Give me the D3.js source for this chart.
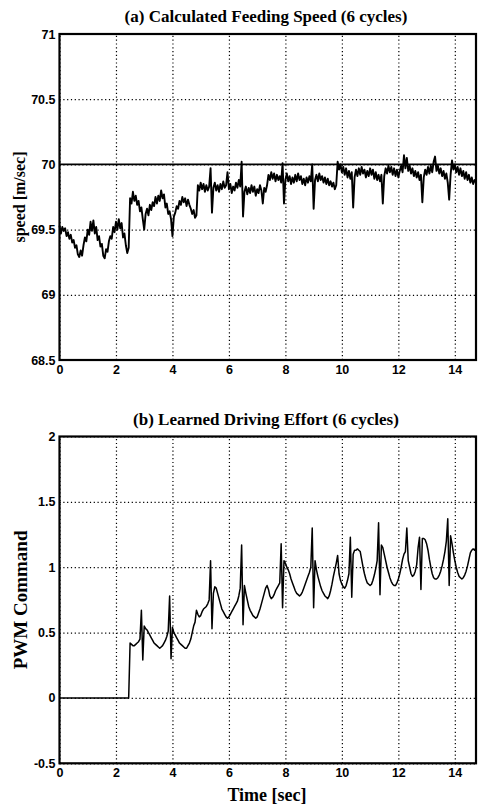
<!DOCTYPE html>
<html><head><meta charset="utf-8">
<script src="https://cdn.jsdelivr.net/npm/d3@7/dist/d3.min.js"></script>
<style>body{margin:0;background:#fff}</style>
</head><body>
<svg id="c" width="480" height="804"></svg>
<script>
// sampling interval of the recorded signals [sec]
const dt = 0.05;

// (a) calculated feeding speed [m/sec], one value every 0.05 s from t = 0
const speedValues = [
69.53,69.47,69.52,69.49,69.51,69.45,69.48,69.43,69.46,69.40,
69.42,69.36,69.38,69.31,69.29,69.34,69.30,69.38,69.44,69.41,
69.50,69.46,69.56,69.49,69.57,69.47,69.52,69.42,69.45,69.37,
69.39,69.30,69.28,69.35,69.33,69.41,69.45,69.43,69.52,69.48,
69.56,69.50,69.58,69.51,69.55,69.44,69.47,69.38,69.32,69.36,
69.74,69.70,69.79,69.72,69.76,69.69,69.72,69.64,69.67,69.58,
69.50,69.62,69.66,69.61,69.69,69.65,69.71,69.68,69.75,69.70,
69.76,69.72,69.80,69.74,69.77,69.67,69.70,69.62,69.64,69.58,
69.45,69.60,69.63,69.68,69.66,69.72,69.69,69.75,69.71,69.74,
69.68,69.73,69.69,69.66,69.62,69.65,69.59,69.61,69.84,69.80,
69.86,69.81,69.85,69.79,69.84,69.80,69.83,69.97,69.63,69.82,
69.86,69.80,69.84,69.79,69.85,69.81,69.87,69.82,69.84,69.94,
69.81,69.85,69.78,69.83,69.80,69.86,69.82,69.88,69.83,70.02,
69.60,69.79,69.83,69.77,69.82,69.78,69.84,69.79,69.83,69.76,
69.81,69.78,69.84,69.80,69.70,69.82,69.79,69.84,69.92,69.88,
69.94,69.89,69.93,69.87,69.92,69.88,69.91,69.86,70.01,69.70,
69.88,69.93,69.87,69.91,69.85,69.90,69.86,69.92,69.87,69.93,
69.88,69.91,69.85,69.89,69.84,69.90,69.86,69.91,69.87,70.00,
69.66,69.88,69.92,69.87,69.93,69.88,69.91,69.86,69.90,69.85,
69.89,69.84,69.87,69.83,69.86,69.81,69.84,70.02,69.96,70.00,
69.94,69.98,69.92,69.97,69.90,69.95,69.89,69.94,69.67,69.90,
69.96,69.91,69.97,69.92,69.98,69.93,69.96,69.90,69.95,69.91,
69.97,69.92,69.96,69.89,69.94,69.88,69.92,69.87,69.92,69.70,
69.91,69.97,69.93,69.99,69.94,69.98,69.92,69.97,69.91,69.96,
69.90,69.95,69.99,69.94,70.07,69.97,70.05,69.95,69.99,69.93,
69.97,69.91,69.95,69.90,69.94,69.88,69.92,69.71,69.90,69.96,
69.92,69.98,69.93,69.99,69.94,70.02,70.06,69.95,69.99,69.93,
69.97,69.91,69.95,69.89,69.93,69.86,69.73,69.92,70.03,69.96,
70.00,69.94,69.98,69.92,69.97,69.91,69.95,69.89,69.94,69.88,
69.92,69.86,69.90,69.85,69.88,69.86
];

// (b) learned driving effort (PWM command), one value every 0.05 s from t = 0
const pwmValues = [
0,0,0,0,0,0,0,0,0,0,
0,0,0,0,0,0,0,0,0,0,
0,0,0,0,0,0,0,0,0,0,
0,0,0,0,0,0,0,0,0,0,
0,0,0,0,0,0,0,0,0,0,
0.42,0.41,0.40,0.40,0.41,0.42,0.43,0.45,0.67,0.29,
0.55,0.53,0.52,0.50,0.48,0.46,0.44,0.42,0.41,0.40,
0.39,0.38,0.39,0.40,0.42,0.44,0.47,0.51,0.78,0.30,
0.54,0.50,0.48,0.46,0.44,0.42,0.41,0.40,0.39,0.38,
0.38,0.40,0.42,0.45,0.50,0.55,0.58,0.67,0.64,0.62,
0.63,0.66,0.68,0.69,0.70,0.72,0.75,1.05,0.53,0.80,
0.85,0.84,0.80,0.76,0.72,0.68,0.66,0.64,0.62,0.61,
0.62,0.64,0.66,0.68,0.70,0.72,0.74,0.78,0.84,1.17,
0.56,0.86,0.80,0.75,0.70,0.67,0.65,0.63,0.62,0.61,
0.62,0.65,0.68,0.72,0.76,0.80,0.84,0.86,0.83,0.78,
0.76,0.77,0.79,0.82,0.84,0.86,0.88,1.18,0.69,1.05,
1.03,1.00,0.98,0.95,0.91,0.88,0.85,0.82,0.80,0.79,
0.78,0.79,0.81,0.84,0.87,0.90,0.93,0.96,1.00,1.30,
0.69,1.05,0.98,0.93,0.89,0.85,0.82,0.80,0.78,0.77,
0.76,0.78,0.82,0.87,0.93,0.98,1.03,1.09,0.95,0.90,
0.87,0.85,0.84,0.86,0.90,0.95,1.23,0.77,1.10,1.13,
1.13,1.14,1.13,1.12,1.06,1.00,0.95,0.91,0.88,0.87,
0.86,0.87,0.90,0.94,0.99,1.05,1.34,0.79,1.17,1.15,
1.10,1.05,1.00,0.96,0.92,0.89,0.87,0.86,0.86,0.88,
0.91,0.95,1.00,1.06,1.10,1.12,1.30,1.05,1.00,0.95,
0.93,0.94,0.97,1.02,1.15,1.23,0.83,1.22,1.22,1.21,
1.18,1.13,1.06,1.00,0.95,0.92,0.91,0.91,0.92,0.94,
0.97,1.01,1.06,1.12,1.20,1.37,0.86,1.24,1.18,1.11,
1.05,1.00,0.96,0.93,0.92,0.91,0.92,0.94,0.97,1.01,
1.06,1.11,1.13,1.14,1.13,1.15
];

const timeDomain = [0, 14.75];
const xTicks = [0, 2, 4, 6, 8, 10, 12, 14];
const speedDomain = [68.5, 71];
const speedTicks = [68.5, 69, 69.5, 70, 70.5, 71];
const speedReference = [70];
const pwmDomain = [-0.5, 2];
const pwmTicks = [-0.5, 0, 0.5, 1, 1.5, 2];

const titleA = "(a) Calculated Feeding Speed (6 cycles)";
const titleB = "(b) Learned Driving Effort (6 cycles)";
const yLabelA = "speed [m/sec]";
const yLabelB = "PWM Command";
const xLabel = "Time [sec]";

const svg = d3.select("#c");
const serif = "'Liberation Serif','Times New Roman',serif";
const sans = "'Liberation Sans',Arial,sans-serif";

function panel(cfg) {
  const x = d3.scaleLinear().domain(timeDomain).range([cfg.left, cfg.right]);
  const y = d3.scaleLinear().domain(cfg.domain).range([cfg.bottom, cfg.top]);
  const g = svg.append("g");

  // dotted grid
  const gx = g.append("g").attr("transform", `translate(0,${cfg.bottom})`)
    .call(d3.axisBottom(x).tickValues(xTicks).tickSize(-(cfg.bottom - cfg.top)).tickFormat(""));
  const gy = g.append("g").attr("transform", `translate(${cfg.left},0)`)
    .call(d3.axisLeft(y).tickValues(cfg.ticks).tickSize(-(cfg.right - cfg.left)).tickFormat(""));
  [gx, gy].forEach(a => {
    a.select(".domain").remove();
    a.selectAll(".tick line").attr("stroke", "#000").attr("stroke-width", 1.2)
      .attr("stroke-dasharray", "1.2,2.6");
  });

  // tick labels
  const lx = g.append("g").attr("transform", `translate(0,${cfg.bottom})`)
    .call(d3.axisBottom(x).tickValues(xTicks).tickSize(0).tickPadding(5).tickFormat(d => String(d)));
  const ly = g.append("g").attr("transform", `translate(${cfg.left},0)`)
    .call(d3.axisLeft(y).tickValues(cfg.ticks).tickSize(0).tickPadding(4).tickFormat(d => String(d)));
  [lx, ly].forEach(a => {
    a.select(".domain").remove();
    a.selectAll("text").attr("font-family", sans).attr("font-weight", "bold")
      .attr("font-size", 12.5).attr("fill", "#000");
  });

  // reference lines
  if (cfg.refs) {
    g.selectAll(".ref").data(cfg.refs).join("line")
      .attr("x1", cfg.left).attr("x2", cfg.right)
      .attr("y1", d => y(d)).attr("y2", d => y(d))
      .attr("stroke", "#000").attr("stroke-width", 1.8);
  }

  // data line
  const line = d3.line().x((d, i) => x(i * dt)).y(d => y(d));
  g.append("path").datum(cfg.values).attr("d", line)
    .attr("fill", "none").attr("stroke", "#000").attr("stroke-width", cfg.lw)
    .attr("stroke-linejoin", "round");

  // box
  g.append("rect").attr("x", cfg.left).attr("y", cfg.top)
    .attr("width", cfg.right - cfg.left).attr("height", cfg.bottom - cfg.top)
    .attr("fill", "none").attr("stroke", "#000").attr("stroke-width", 2.2);

  // title
  g.append("text").attr("x", 266).attr("y", cfg.top - 12)
    .attr("text-anchor", "middle").attr("font-family", serif).attr("font-weight", "bold")
    .attr("font-size", 17).text(cfg.title);

  // y label
  g.append("text")
    .attr("transform", `translate(${cfg.ylx},${(cfg.top + cfg.bottom) / 2}) rotate(-90)`)
    .attr("text-anchor", "middle").attr("font-family", serif).attr("font-weight", "bold")
    .attr("font-size", cfg.yfs).text(cfg.ylabel);
}

panel({ left: 59.5, right: 476, top: 34, bottom: 360, domain: speedDomain, ticks: speedTicks,
        values: speedValues, refs: speedReference, title: titleA, ylabel: yLabelA,
        lw: 1.9, ylx: 25, yfs: 16 });
panel({ left: 59.5, right: 476, top: 436.5, bottom: 763.3, domain: pwmDomain, ticks: pwmTicks,
        values: pwmValues, title: titleB, ylabel: yLabelB, lw: 1.5, ylx: 27, yfs: 19 });

svg.append("text").attr("x", 267).attr("y", 801).attr("text-anchor", "middle")
  .attr("font-family", serif).attr("font-weight", "bold").attr("font-size", 18).text(xLabel);
</script>
</body></html>
